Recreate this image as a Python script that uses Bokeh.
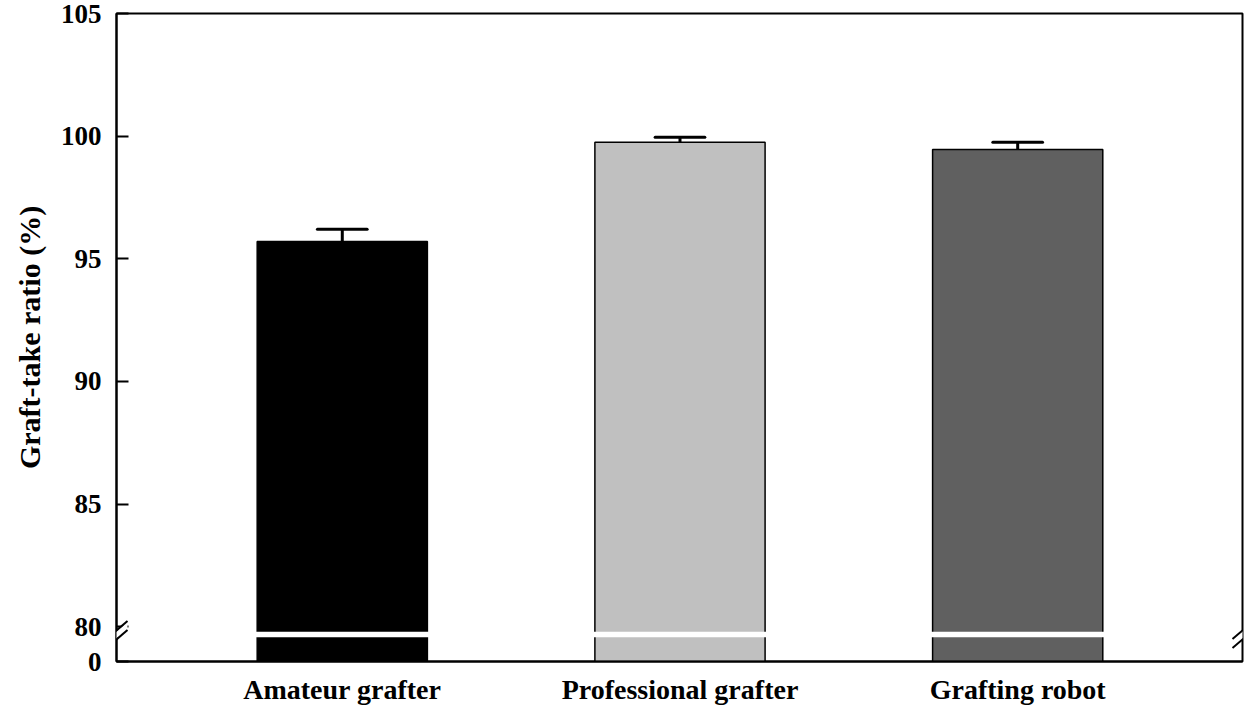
from bokeh.plotting import figure
from bokeh.models import (ColumnDataSource, FixedTicker, Range1d, CustomJSTickFormatter,
                          Arrow, PolyAnnotation)
from bokeh.embed import file_html
from bokeh.resources import INLINE

# ---- data ----
categories = ["Amateur grafter", "Professional grafter", "Grafting robot"]
ratio = [95.7, 99.75, 99.45]
sem = [0.5, 0.2, 0.3]
colors = ["#000000", "#c0c0c0", "#606060"]
y_ticks = [80, 85, 90, 95, 100, 105]
zero_pos = 78.58      # where "0" sits on the broken axis
break_pos = 79.68     # centre of the axis break

x = [1, 2, 3]
bar_w = 0.504

X0, X1 = 0.3314, 3.6657
Y0, Y1 = zero_pos, 105
W, H = 1244, 707
ML, MR, MT, MB = 116, 2, 13, 44

FONT = "Liberation Serif"

p = figure(width=W, height=H, x_range=Range1d(X0, X1), y_range=Range1d(Y0, Y1),
           output_backend="svg", toolbar_location=None,
           min_border_left=ML, min_border_right=MR, min_border_top=MT, min_border_bottom=MB)
p.xgrid.visible = False
p.ygrid.visible = False
p.outline_line_color = "black"
p.outline_line_width = 2
p.outline_line_alpha = 1
p.background_fill_color = "white"
p.border_fill_color = "white"

xpx = (X1 - X0) / (W - ML - MR)
ypx = (Y1 - Y0) / (H - MT - MB)

src = ColumnDataSource(dict(
    x=x, top=ratio, color=colors, err_top=[r + s for r, s in zip(ratio, sem)],
    cap_l=[v - 0.0736 for v in x], cap_r=[v + 0.0736 for v in x],
    band_l=[v - bar_w / 2 - 2 * xpx for v in x], band_r=[v + bar_w / 2 + 2 * xpx for v in x],
))

# bars
p.vbar(x="x", width=bar_w, bottom=Y0 - 1, top="top", fill_color="color",
       line_color="black", line_width=1.5, source=src)
# error bars (upper only)
p.segment(x0="x", y0="top", x1="x", y1="err_top", line_color="black", line_width=3, source=src)
p.segment(x0="cap_l", y0="err_top", x1="cap_r", y1="err_top", line_color="black",
          line_width=3, line_cap="round", source=src)
# white break band across the bars
p.quad(left="band_l", right="band_r", bottom=break_pos - 2.7 * ypx, top=break_pos + 2.7 * ypx,
       fill_color="white", line_color=None, source=src)

# y axis
ya = p.yaxis[0]
ya.ticker = FixedTicker(ticks=[zero_pos] + y_ticks)
ya.formatter = CustomJSTickFormatter(code="return tick < 80 ? '0' : tick.toFixed(0);")
ya.major_tick_in = 12
ya.major_tick_out = 0
ya.minor_tick_in = 0
ya.minor_tick_out = 0
ya.major_tick_line_width = 2
ya.axis_line_width = 2
ya.major_label_standoff = 15
ya.major_label_text_font = FONT
ya.major_label_text_font_style = "bold"
ya.major_label_text_font_size = "27px"
ya.major_label_text_color = "black"
ya.axis_label = "Graft-take ratio (%)"
ya.axis_label_text_font = FONT
ya.axis_label_text_font_style = "bold"
ya.axis_label_text_font_size = "30px"
ya.axis_label_text_color = "black"
ya.axis_label_standoff = 12

# x axis
xa = p.xaxis[0]
xa.ticker = FixedTicker(ticks=x)
xa.major_label_overrides = {xi: c for xi, c in zip(x, categories)}
xa.major_tick_in = 0
xa.major_tick_out = 0
xa.minor_tick_in = 0
xa.minor_tick_out = 0
xa.axis_line_width = 2
xa.major_label_standoff = 12
xa.major_label_text_font = FONT
xa.major_label_text_font_style = "bold"
xa.major_label_text_font_size = "28px"
xa.major_label_text_color = "black"

# axis-break marks on both sides
for xc in (X0, X1):
    lo = break_pos - 4.5 * ypx
    hi = break_pos + 4.5 * ypx
    xl, xr = xc - 10 * xpx, xc + 11 * xpx
    p.add_layout(PolyAnnotation(xs=[xl, xr, xr, xl],
                                ys=[lo - 8 * ypx, lo + 10 * ypx, hi + 8 * ypx, hi - 10 * ypx],
                                fill_color="white", fill_alpha=1, line_color=None, level="overlay"))
    for yc in (lo, hi):
        p.add_layout(Arrow(end=None, x_start=xl, y_start=yc - 9 * ypx, x_end=xr, y_end=yc + 9 * ypx,
                           line_color="black", line_width=2, level="overlay"))

open("out.html", "w").write(file_html(p, INLINE))
